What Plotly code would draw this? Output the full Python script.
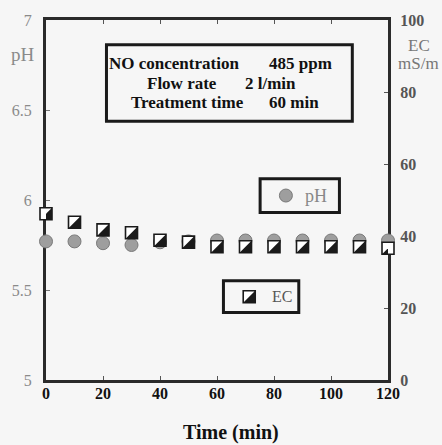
import plotly.graph_objects as go

time_min = [0, 10, 20, 30, 40, 50, 60, 70, 80, 90, 100, 110, 120]
ph_values = [5.77, 5.77, 5.76, 5.75, 5.765, 5.77, 5.775, 5.775, 5.775, 5.775, 5.775, 5.775, 5.775]
ec_values = [46.2, 43.8, 41.7, 40.9, 38.8, 38.3, 37.0, 37.0, 37.0, 37.0, 37.0, 37.0, 36.6]
x_ticks = [0, 20, 40, 60, 80, 100, 120]
ph_ticks = [5, 5.5, 6, 6.5, 7]
ph_tick_text = ["5", "5.5", "6", "6.5", "7"]
ec_ticks = [0, 20, 40, 60, 80, 100]

SERIF = "Liberation Serif, Times New Roman, serif"
AX = "#2b2b2b"
BG = "#f6f6f6"
BLACK = "#1a1a1a"
GRAY = "#9e9e9e"
GRAY_EDGE = "#7a7a7a"

# plot area in px: x 43..388, y 17..380
L, R, T, B = 43, 388, 17, 380
W, H = 442, 445
def px(x):
    return (x - L) / (R - L)
def py(y):
    return (B - y) / (B - T)

HALF = "M6,6L6,-6L-6,-6Z"   # lower-right half of a 12 px square (pixel units)

fig = go.Figure()

fig.add_trace(go.Scatter(
    x=time_min, y=ph_values, mode="markers", name="pH",
    marker=dict(symbol="circle", size=13, color=GRAY,
                line=dict(color=GRAY_EDGE, width=1)),
    cliponaxis=False, showlegend=False, yaxis="y"))

fig.add_trace(go.Scatter(
    x=time_min, y=ec_values, mode="markers", name="EC",
    marker=dict(symbol="square", size=12, color="white",
                line=dict(color=BLACK, width=1.6)),
    cliponaxis=False, showlegend=False, yaxis="y2"))

shapes = []
# black diagonal half of each EC marker, anchored to the data point
for t, ec in zip(time_min, ec_values):
    shapes.append(dict(type="path", xref="x", yref="y2",
                       xsizemode="pixel", ysizemode="pixel",
                       xanchor=t, yanchor=ec, path=HALF,
                       fillcolor=BLACK, line=dict(width=0), layer="above"))

def box(x0, x1, y0, y1):
    return dict(type="rect", xref="paper", yref="paper",
                x0=px(x0), x1=px(x1), y0=py(y1), y1=py(y0),
                fillcolor=BG, line=dict(color=BLACK, width=3), layer="above")

# info box
shapes.append(box(104, 352, 42, 119))
# legend boxes
shapes.append(box(259, 339, 177, 211))
shapes.append(dict(type="circle", xref="paper", yref="paper",
                   xsizemode="pixel", ysizemode="pixel",
                   xanchor=px(285), yanchor=py(194),
                   x0=-6.5, x1=6.5, y0=-6.5, y1=6.5,
                   fillcolor=GRAY, line=dict(color=GRAY_EDGE, width=1),
                   layer="above"))
shapes.append(box(222, 298, 280, 312))
shapes.append(dict(type="rect", xref="paper", yref="paper",
                   xsizemode="pixel", ysizemode="pixel",
                   xanchor=px(248), yanchor=py(296),
                   x0=-6, x1=6, y0=-6, y1=6,
                   fillcolor="white", line=dict(color=BLACK, width=1.6),
                   layer="above"))
shapes.append(dict(type="path", xref="paper", yref="paper",
                   xsizemode="pixel", ysizemode="pixel",
                   xanchor=px(248), yanchor=py(296), path=HALF,
                   fillcolor=BLACK, line=dict(width=0), layer="above"))

fig.update_layout(
    width=W, height=H,
    margin=dict(l=L, r=W - R, t=T, b=H - B),
    paper_bgcolor=BG, plot_bgcolor=BG,
    showlegend=False,
    shapes=shapes,
    xaxis=dict(range=[0, 120], tickvals=x_ticks,
               ticktext=[f"<b>{v}</b>" for v in x_ticks],
               ticks="inside", ticklen=4, tickwidth=1, tickcolor="#555",
               showline=True, linewidth=3, linecolor=AX, mirror="ticks",
               showgrid=False, zeroline=False, layer="below traces",
               tickfont=dict(family=SERIF, size=16, color="#111"),
               ticklabelstandoff=-3),
    yaxis=dict(range=[5, 7], tickvals=ph_ticks, ticktext=ph_tick_text,
               ticks="inside", ticklen=4, tickwidth=1, tickcolor="#777",
               showline=True, linewidth=3, linecolor=AX,
               showgrid=False, zeroline=False, layer="below traces",
               tickfont=dict(family=SERIF, size=16, color="#8a8a8a"),
               ticklabelstandoff=8),
    yaxis2=dict(range=[0, 100], tickvals=ec_ticks,
                ticktext=[f"<b>{v}</b>" for v in ec_ticks],
                overlaying="y", side="right",
                ticks="inside", ticklen=4, tickwidth=1, tickcolor="#555",
                showline=True, linewidth=3, linecolor=AX,
                showgrid=False, zeroline=False, layer="below traces",
                tickfont=dict(family=SERIF, size=16, color="#555"),
                ticklabelstandoff=6),
)

def txt(text, x, y, size, color, anchor="center", bold=False):
    if bold:
        text = f"<b>{text}</b>"
    return dict(text=text, x=px(x), y=py(y), xref="paper", yref="paper",
                showarrow=False, xanchor=anchor, yanchor="middle",
                font=dict(family=SERIF, size=size, color=color))

INFO = 17
annotations = [
    txt("NO concentration", 105, 61, INFO, "#111", "left", True),
    txt("485 ppm", 266, 61, INFO, "#111", "left", True),
    txt("Flow rate", 143, 81, INFO, "#111", "left", True),
    txt("2 l/min", 242, 81, INFO, "#111", "left", True),
    txt("Treatment time", 127, 100, INFO, "#111", "left", True),
    txt("60 min", 266, 100, INFO, "#111", "left", True),
    txt("pH", 315, 194, 18, "#888"),
    txt("EC", 281, 296, 16, "#555"),
    txt("pH", 20, 52, 19, "#8a8a8a"),
    txt("EC", 419, 43, 17, "#777"),
    txt("mS/m", 419, 61, 17, "#777"),
    txt("Time (min)", 229.5, 433, 20, "#111", bold=True),
]
fig.update_layout(annotations=annotations)

fig.write_html("out.html")
